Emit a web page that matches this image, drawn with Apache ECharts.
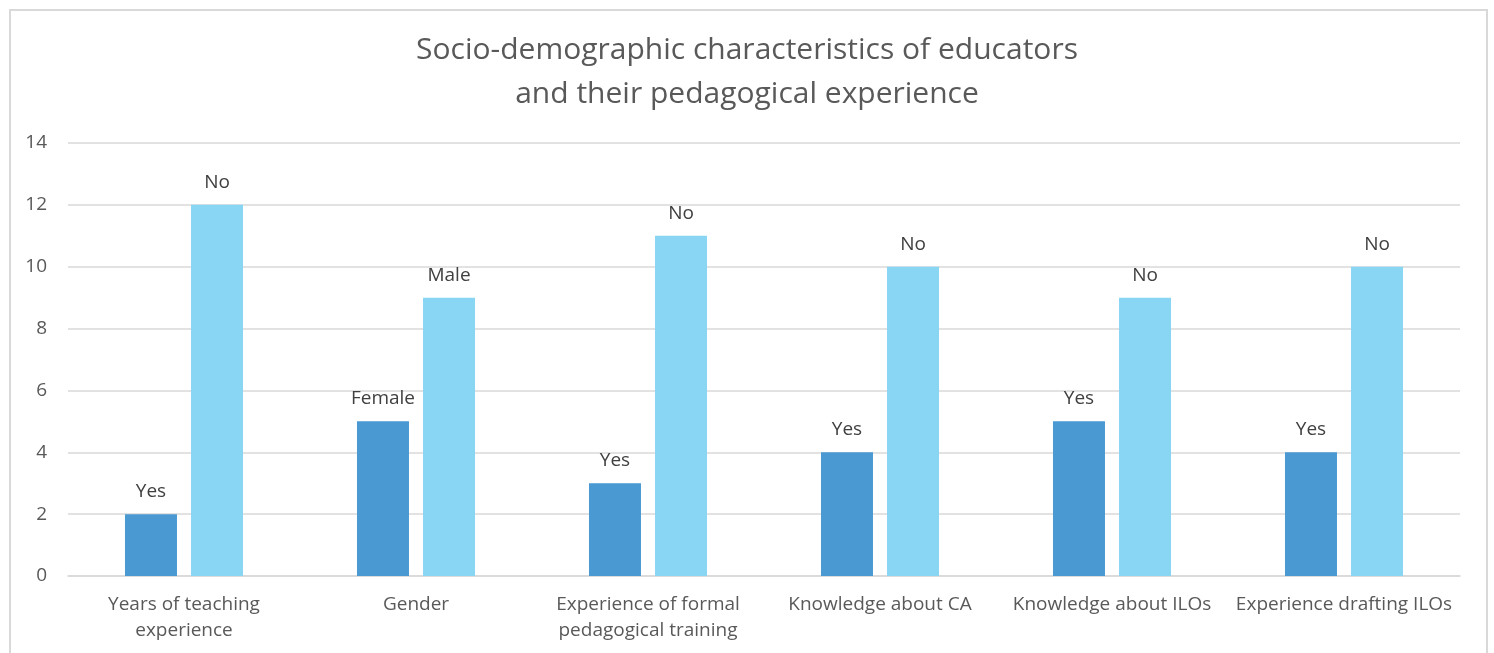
<!DOCTYPE html>
<html>
<head>
<meta charset="utf-8">
<script src="https://cdn.jsdelivr.net/npm/echarts@6/dist/echarts.min.js"></script>
<style>
html,body{margin:0;padding:0;background:#fff;}
#chart{width:1494px;height:653px;}
</style>
</head>
<body>
<div id="chart"></div>
<script>
const categories = ["Years of teaching\nexperience", "Gender", "Experience of formal\npedagogical training", "Knowledge about CA", "Knowledge about ILOs", "Experience drafting ILOs"];
const firstValues = [2, 5, 3, 4, 5, 4];
const secondValues = [12, 9, 11, 10, 9, 10];
const firstLabels = ["Yes", "Female", "Yes", "Yes", "Yes", "Yes"];
const secondLabels = ["No", "Male", "No", "No", "No", "No"];
const titleText = "Socio-demographic characteristics of educators\nand their pedagogical experience";

const font = "Open Sans, Noto Sans, sans-serif";
const chart = echarts.init(document.getElementById('chart'));
function mk(vals, labels, color) {
  return {
    type: 'bar',
    data: vals.map((v, i) => ({ value: v, lbl: labels[i] })),
    barWidth: 52,
    barGap: '27%',
    itemStyle: { color: color },
    label: {
      show: true, position: 'top', distance: 13,
      fontFamily: font, fontSize: 19, color: '#404040',
      formatter: p => p.data.lbl
    }
  };
}
chart.setOption({
  animation: false,
  title: {
    text: titleText, left: 'center', top: 23,
    textStyle: { fontFamily: font, fontSize: 30, fontWeight: 'normal', color: '#595959', lineHeight: 44 }
  },
  graphic: [{
    type: 'rect', shape: { x: 10, y: 10, width: 1477, height: 700 },
    style: { fill: 'none', stroke: '#d9d9d9', lineWidth: 2 }, silent: true
  }],
  grid: { left: 68, right: 34, top: 143, bottom: 77 },
  xAxis: {
    type: 'category', data: categories,
    axisLine: { lineStyle: { color: '#d9d9d9', width: 1.5 } },
    axisTick: { show: false },
    axisLabel: { fontFamily: font, fontSize: 19, color: '#595959', margin: 16, lineHeight: 26, interval: 0 }
  },
  yAxis: {
    type: 'value', min: 0, max: 14, interval: 2,
    axisLine: { show: false }, axisTick: { show: false },
    splitLine: { lineStyle: { color: '#d9d9d9', width: 1.5 } },
    axisLabel: { fontFamily: font, fontSize: 19, color: '#595959', margin: 21 }
  },
  series: [mk(firstValues, firstLabels, '#4a99d3'), mk(secondValues, secondLabels, '#88d6f4')]
});
</script>
</body>
</html>
